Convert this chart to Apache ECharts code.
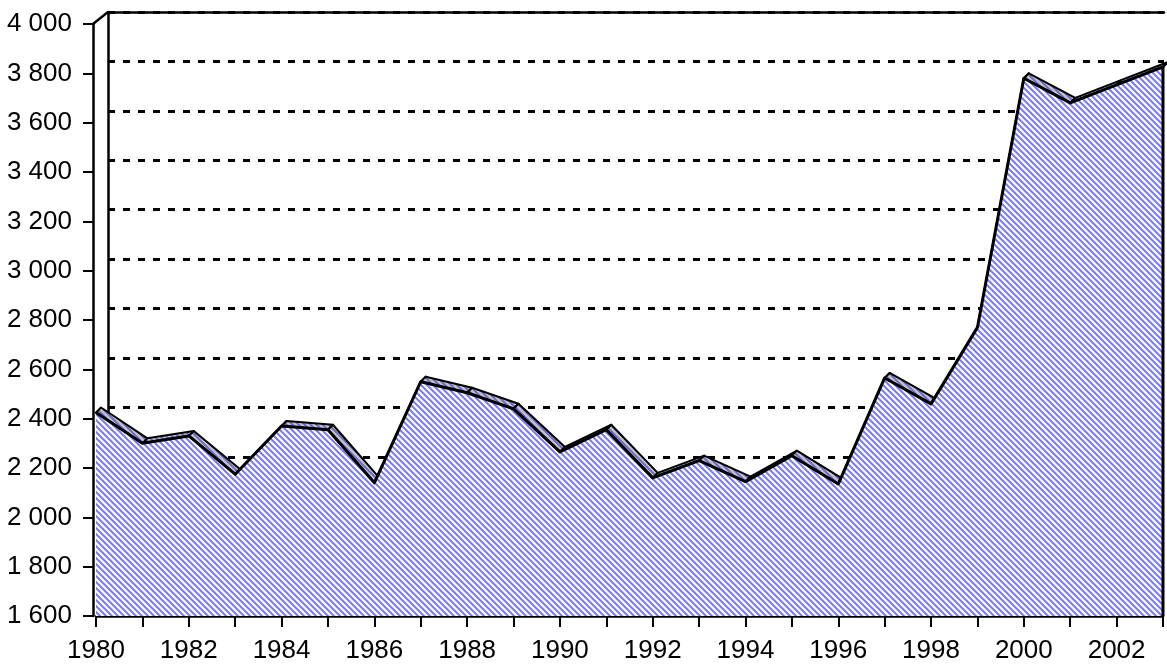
<!DOCTYPE html>
<html>
<head>
<meta charset="utf-8">
<script src="https://cdn.jsdelivr.net/npm/echarts@6/dist/echarts.min.js"></script>
<style>
html,body{margin:0;padding:0;background:#fff;}
#chart{width:1167px;height:664px;}
</style>
</head>
<body>
<div id="chart"></div>
<script>
const years = ['1980','1981','1982','1983','1984','1985','1986','1987','1988','1989','1990','1991',
               '1992','1993','1994','1995','1996','1997','1998','1999','2000','2001','2002','2003'];
const values = [2425, 2300, 2330, 2175, 2370, 2355, 2140, 2550, 2505, 2440, 2265, 2355,
                2160, 2230, 2145, 2250, 2135, 2565, 2460, 2770, 3780, 3680, 3753, 3826];
const yMin = 1600, yMax = 4000, yStep = 200;

const FONT = '"Liberation Sans", Arial, sans-serif';

function stripePattern(n, c1, c2) {
  const cv = document.createElement('canvas');
  cv.width = n; cv.height = n;
  const ctx = cv.getContext('2d');
  const img = ctx.createImageData(n, n);
  for (let y = 0; y < n; y++) {
    for (let x = 0; x < n; x++) {
      const t = (((x - y) % n) + n) % n;
      let f = 0.5 + 0.5 * Math.cos(2 * Math.PI * t / n);
      f = Math.min(1, Math.max(0, (f - 0.55) * 1.4 + 0.5));
      const k = (y * n + x) * 4;
      img.data[k]   = Math.round(c1[0] * f + c2[0] * (1 - f));
      img.data[k+1] = Math.round(c1[1] * f + c2[1] * (1 - f));
      img.data[k+2] = Math.round(c1[2] * f + c2[2] * (1 - f));
      img.data[k+3] = 255;
    }
  }
  ctx.putImageData(img, 0, 0);
  return cv;
}
const areaPat = stripePattern(6, [115,115,250], [250,250,255]);
const bevelPat = stripePattern(6, [105,105,200], [195,195,200]);

const fmt = v => String(v).replace(/\B(?=(\d{3})+(?!\d))/g, ' ');
const DX = 5, DY = -5;

const chart = echarts.init(document.getElementById('chart'), null, {renderer: 'canvas'});
chart.setOption({
  animation: false,
  backgroundColor: '#fff',
  grid: [
    {left: 96, right: 4, top: 24, bottom: 47, containLabel: false},
    {left: 108, right: 3, top: 12, bottom: 59, containLabel: false}
  ],
  xAxis: [
    {
      type: 'category', gridIndex: 0, data: years, boundaryGap: false,
      axisLine: {show: true, lineStyle: {color: '#000', width: 2.5}},
      axisTick: {show: true, inside: false, length: 11, interval: 0, lineStyle: {color: '#000', width: 2}},
      axisLabel: {interval: 1, color: '#000', fontFamily: FONT, fontSize: 26, margin: 22},
      splitLine: {show: false}
    },
    {
      type: 'category', gridIndex: 1, data: years, boundaryGap: false, position: 'top',
      axisLine: {show: true, lineStyle: {color: '#000', width: 2.5}},
      axisTick: {show: false}, axisLabel: {show: false}, splitLine: {show: false}
    }
  ],
  yAxis: [
    {
      type: 'value', gridIndex: 0, min: yMin, max: yMax, interval: yStep, offset: 3,
      axisLine: {show: true, lineStyle: {color: '#000', width: 2.5}},
      axisTick: {show: true, inside: false, length: 10, lineStyle: {color: '#000', width: 2}},
      axisLabel: {color: '#000', fontFamily: FONT, fontSize: 26, margin: 21, formatter: fmt},
      splitLine: {show: false}
    },
    {
      type: 'value', gridIndex: 1, min: yMin, max: yMax, interval: yStep,
      axisLine: {show: true, lineStyle: {color: '#000', width: 2.5}},
      axisTick: {show: false}, axisLabel: {show: false},
      splitLine: {show: true, lineStyle: {color: '#000', width: 3, type: [7, 8]}}
    }
  ],
  series: [
    {
      name: 'bevel', type: 'custom', xAxisIndex: 0, yAxisIndex: 0, z: 3, clip: false,
      data: values.map((v, i) => [i, v]),
      encode: {x: 0, y: 1},
      renderItem: function (params, api) {
        const i = params.dataIndex;
        if (i >= values.length - 1) return null;
        const p0 = api.coord([i, values[i]]);
        const p1 = api.coord([i + 1, values[i + 1]]);
        return {
          type: 'polygon',
          shape: {points: [p0, p1, [p1[0] + DX, p1[1] + DY], [p0[0] + DX, p0[1] + DY]]},
          style: {fill: {image: bevelPat, repeat: 'repeat'}, stroke: '#000', lineWidth: 2, lineJoin: 'round'}
        };
      }
    },
    {
      name: 'value', type: 'line', xAxisIndex: 0, yAxisIndex: 0, z: 4,
      data: values, showSymbol: false, symbol: 'none',
      lineStyle: {color: '#000', width: 3, join: 'round'},
      areaStyle: {color: {image: areaPat, repeat: 'repeat'}, opacity: 1, origin: 'start'}
    },
    {
      name: 'edge', type: 'custom', xAxisIndex: 0, yAxisIndex: 0, z: 5, clip: false,
      data: [[values.length - 1, values[values.length - 1]]],
      encode: {x: 0, y: 1},
      renderItem: function (params, api) {
        const i = values.length - 1;
        const top = api.coord([i, values[i]]);
        const bot = api.coord([i, yMin]);
        return {
          type: 'group',
          children: [
            {type: 'line', shape: {x1: top[0], y1: top[1], x2: bot[0], y2: bot[1]},
             style: {stroke: '#000', lineWidth: 3}},
            {type: 'line', shape: {x1: top[0], y1: top[1], x2: top[0] + DX, y2: top[1] + DY},
             style: {stroke: '#000', lineWidth: 2}}
          ]
        };
      }
    }
  ]
});

// connector between front axis top and back wall top-left corner
const front = chart.convertToPixel({xAxisIndex: 0, yAxisIndex: 0}, [0, yMax]);
const back = chart.convertToPixel({xAxisIndex: 1, yAxisIndex: 1}, [0, yMax]);
chart.setOption({
  graphic: [{
    type: 'line', z: 10,
    shape: {x1: front[0] - 3, y1: front[1], x2: back[0], y2: back[1]},
    style: {stroke: '#000', lineWidth: 2.5}
  }]
});
</script>
</body>
</html>
